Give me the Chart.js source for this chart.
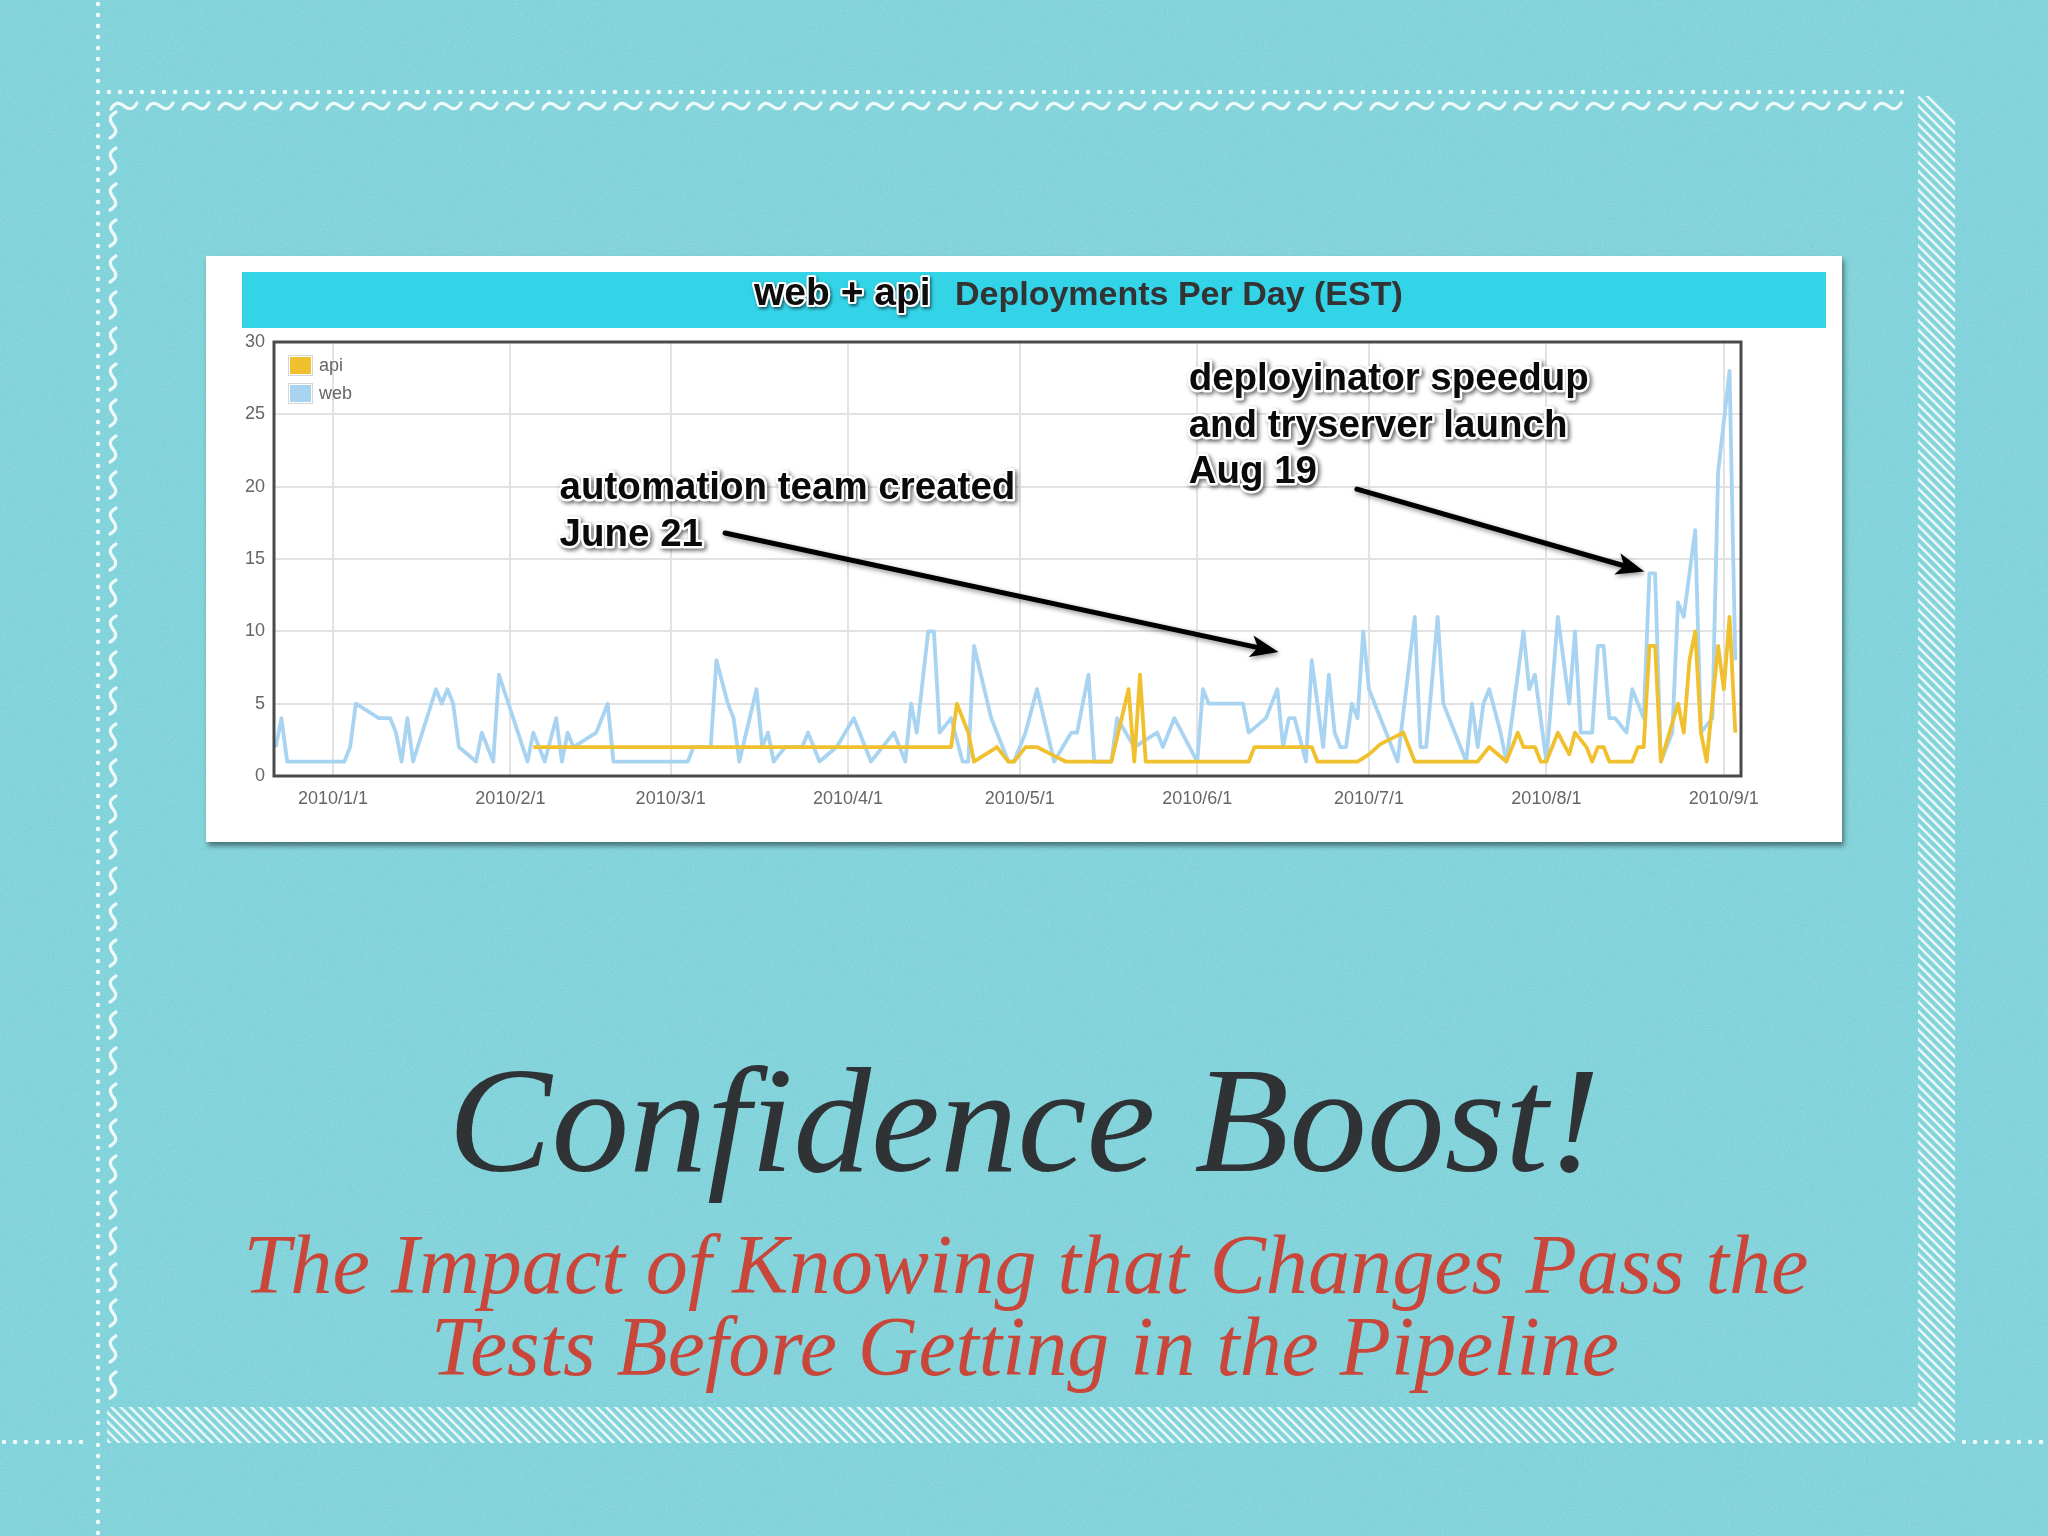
<!DOCTYPE html>
<html>
<head>
<meta charset="utf-8">
<script src="https://cdn.jsdelivr.net/npm/chart.js@4.4.1/dist/chart.umd.min.js"></script>
<style>
html,body{margin:0;padding:0;}
body{width:2048px;height:1536px;position:relative;overflow:hidden;background:#80d2da;}
#deco{position:absolute;left:0;top:0;z-index:0;}
#card{position:absolute;left:206px;top:256px;width:1636px;height:586px;background:#fff;box-shadow:2px 4px 5px rgba(0,0,0,0.45);z-index:1;}
#bar{position:absolute;left:36px;top:16px;width:1584px;height:56px;background:#33d3e8;}
#c{position:absolute;left:0;top:0;}
#texts{position:absolute;left:0;top:0;z-index:2;pointer-events:none;}
</style>
</head>
<body>
<svg id="deco" width="2048" height="1536">
  <defs>
    <filter id="noise" x="0" y="0" width="100%" height="100%">
      <feTurbulence type="fractalNoise" baseFrequency="0.7" numOctaves="3" seed="7" result="t"/>
      <feColorMatrix in="t" type="matrix" values="0 0 0 0 1  0 0 0 0 1  0 0 0 0 1  0 0 0.5 0 -0.2"/>
    </filter>
    <pattern id="hatch" patternUnits="userSpaceOnUse" width="6.6" height="10" patternTransform="rotate(-45)">
      <rect width="2.4" height="10" fill="#fff"/>
    </pattern>
    <pattern id="waveH" patternUnits="userSpaceOnUse" x="107" y="99" width="36" height="14">
      <path d="M4,10 C8,3 12,3 17,7 S26,11 30,4" fill="none" stroke="#fff" stroke-width="3.2" stroke-linecap="round"/>
    </pattern>
    <pattern id="waveV" patternUnits="userSpaceOnUse" x="106" y="108" width="14" height="36">
      <path d="M10,4 C3,8 3,12 7,17 S11,26 4,30" fill="none" stroke="#fff" stroke-width="3.2" stroke-linecap="round"/>
    </pattern>
  </defs>
  <rect width="2048" height="1536" fill="#80d2da"/>
  <rect width="2048" height="1536" filter="url(#noise)" opacity="0.6"/>
  <g opacity="0.88">
    <line x1="98" y1="4" x2="98" y2="1536" stroke="#fff" stroke-width="4.5" stroke-linecap="round" stroke-dasharray="0 11"/>
    <line x1="109" y1="92" x2="1912" y2="92" stroke="#fff" stroke-width="4.5" stroke-linecap="round" stroke-dasharray="0 11"/>
    <line x1="4" y1="1442" x2="92" y2="1442" stroke="#fff" stroke-width="4.5" stroke-linecap="round" stroke-dasharray="0 11"/>
    <line x1="1964" y1="1442" x2="2048" y2="1442" stroke="#fff" stroke-width="4.5" stroke-linecap="round" stroke-dasharray="0 11"/>
    <rect x="107" y="99" width="1800" height="14" fill="url(#waveH)"/>
    <rect x="106" y="108" width="14" height="1296" fill="url(#waveV)"/>
    <polygon points="1918,96 1930,96 1955,121 1955,1443 1918,1443" fill="url(#hatch)"/>
    <rect x="107" y="1407" width="1811" height="36" fill="url(#hatch)"/>
  </g>
</svg>

<div id="card"><div id="bar"></div><canvas id="c" width="1636" height="586"></canvas></div>

<svg id="texts" width="2048" height="1536">
  <defs>
    <filter id="sh" x="-10%" y="-40%" width="120%" height="180%">
      <feDropShadow dx="1.5" dy="2" stdDeviation="1.5" flood-color="#000" flood-opacity="0.55"/>
    </filter>
  </defs>
  <text x="754" y="305" font-family="Liberation Sans, Arial, sans-serif" font-weight="bold" font-size="39" fill="#111" stroke="#fff" stroke-width="4" stroke-linejoin="round" paint-order="stroke" filter="url(#sh)">web + api</text>
  <text x="955" y="305" font-family="Liberation Sans, Arial, sans-serif" font-weight="bold" font-size="34" fill="#333">Deployments Per Day (EST)</text>
  <text x="1024" y="1171" text-anchor="middle" font-family="Liberation Serif, serif" font-style="italic" font-size="150" fill="#2f3335" textLength="1152" lengthAdjust="spacingAndGlyphs">Confidence Boost!</text>
  <text x="1026" y="1293" text-anchor="middle" font-family="Liberation Serif, serif" font-style="italic" font-size="84" fill="#c9473a" textLength="1565" lengthAdjust="spacingAndGlyphs">The Impact of Knowing that Changes Pass the</text>
  <text x="1025" y="1375" text-anchor="middle" font-family="Liberation Serif, serif" font-style="italic" font-size="84" fill="#c9473a" textLength="1188" lengthAdjust="spacingAndGlyphs">Tests Before Getting in the Pipeline</text>
</svg>

<script>
// ---- data (days counted from 2010-01-01) ----
const tickDays = [0, 31, 59, 90, 120, 151, 181, 212, 243];
const tickLabels = ['2010/1/1','2010/2/1','2010/3/1','2010/4/1','2010/5/1','2010/6/1','2010/7/1','2010/8/1','2010/9/1'];
const yTickStep = 5;

const webDays = [-10,-9,-8,2,3,4,8,10,11,12,
  13,14,18,19,20,21,22,25,26,28,
  29,34,35,37,39,40,41,42,46,48,
  49,62,63,66,67,69,70,71,74,75,
  76,77,79,82,83,85,88,91,94,96,
  98,100,101,102,104,105,106,108,110,111,
  112,115,118,119,121,123,126,129,130,132,
  133,136,137,140,144,145,147,151,152,153,
  159,160,163,165,166,167,168,170,171,173,
  174,175,176,177,178,179,180,181,186,189,
  190,191,193,194,198,199,200,201,202,204,
  205,208,209,210,212,214,216,217,218,220,
  221,222,223,224,226,227,229,230,231,232,
  234,235,236,238,239,241,242,244,245];
const webValues = [2,4,1,1,2,5,4,4,3,1,
  4,1,6,5,6,5,2,1,3,1,
  7,1,3,1,4,1,3,2,3,5,
  1,1,2,2,8,5,4,1,6,2,
  3,1,2,2,3,1,2,4,1,2,
  3,1,5,3,10,10,3,4,1,1,
  9,4,1,1,3,6,1,3,3,7,
  1,1,4,2,3,2,4,1,6,5,
  5,3,4,6,2,4,4,1,8,2,
  7,3,2,2,5,4,10,6,1,11,
  2,2,11,5,1,5,2,5,6,3,
  1,10,6,7,1,11,5,10,3,3,
  9,9,4,4,3,6,4,14,14,1,
  3,12,11,17,3,4,21,28,8];

const apiDays = [35,108,109,111,112,116,118,119,121,123,
  125,128,136,139,140,141,142,160,161,171,
  172,179,181,183,185,187,189,200,202,205,
  207,208,210,211,212,214,216,217,219,220,
  221,222,223,227,228,229,230,231,232,235,
  236,237,238,239,240,242,243,244,245];
const apiValues = [2,2,5,3,1,2,1,1,2,2,
  1.6,1,1,6,1,7,1,1,2,2,
  1,1,1.5,2.2,2.6,3,1,1,2,1,
  3,2,2,1,1,3,1.5,3,2,1,
  2,2,1,1,2,2,9,9,1,5,
  3,8,10,3,1,9,6,11,3];

// annotations, in data units (day, deployments)
const noteLines = [
  {text:'automation team created', day:39.6, value:19.9},
  {text:'June 21', day:39.6, value:16.65},
  {text:'deployinator speedup', day:149.5, value:27.4},
  {text:'and tryserver launch', day:149.5, value:24.2},
  {text:'Aug 19', day:149.5, value:21.0}
];
const noteArrows = [
  {from:[68.5, 16.8], to:[165.2, 8.57]},
  {from:[178.9, 19.83], to:[229.1, 14.13]}
];

const xMin = -10.3, xMax = 246;
const FONT = '"Liberation Sans", Arial, sans-serif';

const toPoints = (days, vals) => days.map((d, i) => ({x: d, y: vals[i]}));

const framePlugin = {
  id: 'frame',
  afterDatasetsDraw(chart) {
    const {ctx, chartArea: a} = chart;
    ctx.save();
    ctx.strokeStyle = '#4a4a4a';
    ctx.lineWidth = 3;
    ctx.strokeRect(a.left, a.top, a.right - a.left, a.bottom - a.top);
    ctx.restore();
  }
};

const legendPlugin = {
  id: 'boxLegend',
  afterDatasetsDraw(chart) {
    const {ctx, chartArea: a} = chart;
    ctx.save();
    ctx.font = '18px ' + FONT;
    ctx.textBaseline = 'middle';
    ctx.textAlign = 'left';
    chart.data.datasets.forEach((ds, i) => {
      const bx = a.left + 16, by = a.top + 15 + i * 28;
      ctx.strokeStyle = '#d6d6d6';
      ctx.lineWidth = 1;
      ctx.strokeRect(bx - 1.5, by - 1.5, 24, 20);
      ctx.fillStyle = ds.borderColor;
      ctx.fillRect(bx, by, 21, 17);
      ctx.fillStyle = '#666';
      ctx.fillText(ds.label, bx + 29, by + 9);
    });
    ctx.restore();
  }
};

const notesPlugin = {
  id: 'notes',
  afterDraw(chart) {
    const xs = chart.scales.x, ys = chart.scales.y, ctx = chart.ctx;
    ctx.save();
    noteArrows.forEach(ar => {
      const x1 = xs.getPixelForValue(ar.from[0]), y1 = ys.getPixelForValue(ar.from[1]);
      const x2 = xs.getPixelForValue(ar.to[0]), y2 = ys.getPixelForValue(ar.to[1]);
      const ang = Math.atan2(y2 - y1, x2 - x1), c = Math.cos(ang), s = Math.sin(ang);
      const L = 28, W = 11;
      const bx = x2 - L * c, by = y2 - L * s;
      ctx.shadowColor = 'rgba(0,0,0,0.45)'; ctx.shadowBlur = 5; ctx.shadowOffsetX = 1; ctx.shadowOffsetY = 2;
      ctx.strokeStyle = '#000'; ctx.lineWidth = 5; ctx.lineCap = 'round';
      ctx.beginPath(); ctx.moveTo(x1, y1); ctx.lineTo(bx + 6 * c, by + 6 * s); ctx.stroke();
      ctx.fillStyle = '#000';
      ctx.beginPath();
      ctx.moveTo(x2, y2);
      ctx.lineTo(bx - W * s, by + W * c);
      ctx.lineTo(bx + 7 * c, by + 7 * s);
      ctx.lineTo(bx + W * s, by - W * c);
      ctx.closePath(); ctx.fill();
    });
    ctx.font = 'bold 38.5px ' + FONT;
    ctx.textBaseline = 'middle'; ctx.textAlign = 'left'; ctx.lineJoin = 'round';
    noteLines.forEach(n => {
      const px = xs.getPixelForValue(n.day), py = ys.getPixelForValue(n.value);
      ctx.shadowColor = 'rgba(0,0,0,0.6)'; ctx.shadowBlur = 4; ctx.shadowOffsetX = 2; ctx.shadowOffsetY = 2;
      ctx.strokeStyle = '#fff'; ctx.lineWidth = 5; ctx.strokeText(n.text, px, py);
      ctx.shadowColor = 'transparent'; ctx.shadowBlur = 0;
      ctx.fillStyle = '#0a0a0a'; ctx.fillText(n.text, px, py);
    });
    ctx.restore();
  }
};

new Chart(document.getElementById('c'), {
  type: 'line',
  data: {
    datasets: [
      {label: 'api', data: toPoints(apiDays, apiValues), borderColor: '#f0c02f', backgroundColor: '#f0c02f',
       borderWidth: 3.8, pointRadius: 0, borderJoinStyle: 'round', fill: false, tension: 0},
      {label: 'web', data: toPoints(webDays, webValues), borderColor: '#a8d4f2', backgroundColor: '#a8d4f2',
       borderWidth: 3.8, pointRadius: 0, borderJoinStyle: 'round', fill: false, tension: 0}
    ]
  },
  options: {
    responsive: false, animation: false, devicePixelRatio: 1,
    layout: {padding: {left: 0, top: 86, right: 101, bottom: 0}},
    plugins: {legend: {display: false}, tooltip: {enabled: false}, title: {display: false}},
    scales: {
      x: {
        type: 'linear', min: xMin, max: xMax,
        afterFit(s) { s.height = 66; },
        afterBuildTicks(s) { s.ticks = tickDays.map(v => ({value: v})); },
        grid: {color: '#e2e2e2', lineWidth: 2, drawTicks: false},
        border: {display: false},
        ticks: {padding: 12, color: '#666', autoSkip: false, maxRotation: 0,
          font: {family: FONT, size: 18},
          callback: v => { const i = tickDays.indexOf(v); return i >= 0 ? tickLabels[i] : ''; }}
      },
      y: {
        min: 0, max: 30,
        afterFit(s) { s.width = 68; },
        grid: {color: '#e2e2e2', lineWidth: 2, drawTicks: false},
        border: {display: false},
        ticks: {stepSize: yTickStep, padding: 9, color: '#666', font: {family: FONT, size: 18}}
      }
    }
  },
  plugins: [framePlugin, legendPlugin, notesPlugin]
});
</script>
</body>
</html>
